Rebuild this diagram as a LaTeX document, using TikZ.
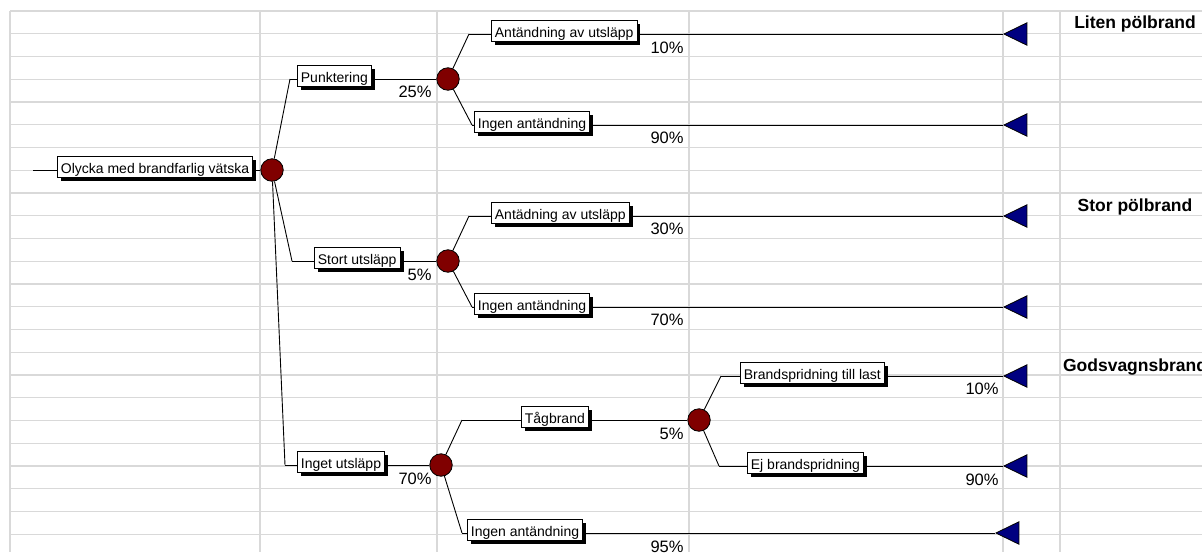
\documentclass[tikz,border=0pt]{standalone}
\usepackage{fontspec}
\setmainfont{Liberation Sans}
\usetikzlibrary{shapes.geometric,shadows}
\definecolor{darkred}{RGB}{128,0,0}
\definecolor{navyblue}{RGB}{0,0,128}
\definecolor{gridgray}{RGB}{217,217,217}

\begin{document}
\begin{tikzpicture}[x=1pt,y=-1pt,line width=0.9pt,
    grid line/.style={draw=gridgray,line width=1.4pt},
    chance node/.style={circle,draw,fill=darkred,minimum size=22.5pt,inner sep=0pt,line width=0.8pt},
    end node/.style={isosceles triangle,shape border rotate=180,isosceles triangle apex angle=52,
        draw,fill=navyblue,minimum width=22pt,minimum height=23pt,inner sep=0pt,anchor=apex,line width=0.8pt},
    label box/.style={draw,fill=white,anchor=west,yshift=3.5pt,line width=0.8pt,
        inner xsep=3.5pt,inner ysep=3.25pt,text height=14.5pt,text depth=0pt,
        font=\fontsize{14}{16}\selectfont,
        drop shadow={shadow xshift=3.5pt,shadow yshift=-3.5pt,opacity=1,fill=black}},
    prob/.style={anchor=base east,inner sep=0pt,font=\fontsize{16.5}{18}\selectfont},
    outcome/.style={anchor=base,inner sep=0pt,font=\bfseries\fontsize{17.5}{20}\selectfont}]
\useasboundingbox (0,0) rectangle (1202,552);

% sheet grid
\foreach \k in {0,...,23}
  \draw[grid line] (10,{11+22.75*\k}) -- (1202,{11+22.75*\k});
\foreach \x in {10,260,437,689,1003,1060}
  \draw[grid line] (\x,11) -- (\x,552);

% root
\coordinate (s) at (33,170);
\node[label box] (b0) at (57,170) {Olycka med brandfarlig vätska};
\node[chance node] (1) at (272,170) {};

% first level
\coordinate (k1) at (290,79);
\coordinate (k2) at (292,261);
\coordinate (k3) at (285,465);
\node[label box] (b1) at (297,79) {Punktering};
\node[label box] (b2) at (314,261) {Stort utsläpp};
\node[label box] (b3) at (297,465) {Inget utsläpp};
\node[chance node] (2) at (448,79) {};
\node[chance node] (3) at (448,261) {};
\node[chance node] (4) at (441,465) {};
\node[prob] at (432,97) {25\%};
\node[prob] at (432,280) {5\%};
\node[prob] at (432,484) {70\%};

% second level
\coordinate (k4) at (469,34);
\coordinate (k5) at (472,125);
\coordinate (k6) at (469,216);
\coordinate (k7) at (472,307);
\coordinate (k8) at (462,420);
\coordinate (k9) at (462,533);
\node[label box] (b4) at (491,34) {Antändning av utsläpp};
\node[label box] (b5) at (474,125) {Ingen antändning};
\node[label box] (b6) at (491,216) {Antädning av utsläpp};
\node[label box] (b7) at (474,307) {Ingen antändning};
\node[label box] (b8) at (521,420) {Tågbrand};
\node[label box] (b9) at (467,533) {Ingen antändning};
\node[chance node] (5) at (699,420) {};
\node[end node] (e1) at (1003,34) {};
\node[end node] (e2) at (1003,125) {};
\node[end node] (e3) at (1003,216) {};
\node[end node] (e4) at (1003,307) {};
\node[end node] (e5) at (995,533) {};
\node[prob] at (684,53) {10\%};
\node[prob] at (684,143) {90\%};
\node[prob] at (684,234) {30\%};
\node[prob] at (684,325) {70\%};
\node[prob] at (684,439) {5\%};
\node[prob] at (684,552) {95\%};

% third level
\coordinate (k10) at (721,376);
\coordinate (k11) at (719,466);
\node[label box] (b10) at (740,376) {Brandspridning till last};
\node[label box] (b11) at (747,466) {Ej brandspridning};
\node[end node] (e6) at (1003,376) {};
\node[end node] (e7) at (1003,466) {};
\node[prob] at (999,394) {10\%};
\node[prob] at (999,485) {90\%};

% outcomes
\node[outcome] (o1) at (1135,28.5) {Liten pölbrand};
\node[outcome] (o2) at (1135,211) {Stor pölbrand};
\node[outcome] (o3) at (1135,371) {Godsvagnsbrand};

\draw (s) -- (b0.west |- s);
\draw (b0.east |- 1) -- (1);
\path (1) edge (k1)
          edge (k2)
          edge (k3)
      (2) edge (k4)
          edge (k5)
      (3) edge (k6)
          edge (k7)
      (4) edge (k8)
          edge (k9)
      (5) edge (k10)
          edge (k11);
\draw (k1) -- (b1.west |- k1) (b1.east |- k1) -- (2);
\draw (k2) -- (b2.west |- k2) (b2.east |- k2) -- (3);
\draw (k3) -- (b3.west |- k3) (b3.east |- k3) -- (4);
\draw (k4) -- (b4.west |- k4) (b4.east |- k4) -- (e1.apex);
\draw (k5) -- (b5.west |- k5) (b5.east |- k5) -- (e2.apex);
\draw (k6) -- (b6.west |- k6) (b6.east |- k6) -- (e3.apex);
\draw (k7) -- (b7.west |- k7) (b7.east |- k7) -- (e4.apex);
\draw (k8) -- (b8.west |- k8) (b8.east |- k8) -- (5);
\draw (k9) -- (b9.west |- k9) (b9.east |- k9) -- (e5.apex);
\draw (k10) -- (b10.west |- k10) (b10.east |- k10) -- (e6.apex);
\draw (k11) -- (b11.west |- k11) (b11.east |- k11) -- (e7.apex);
\end{tikzpicture}
\end{document}
